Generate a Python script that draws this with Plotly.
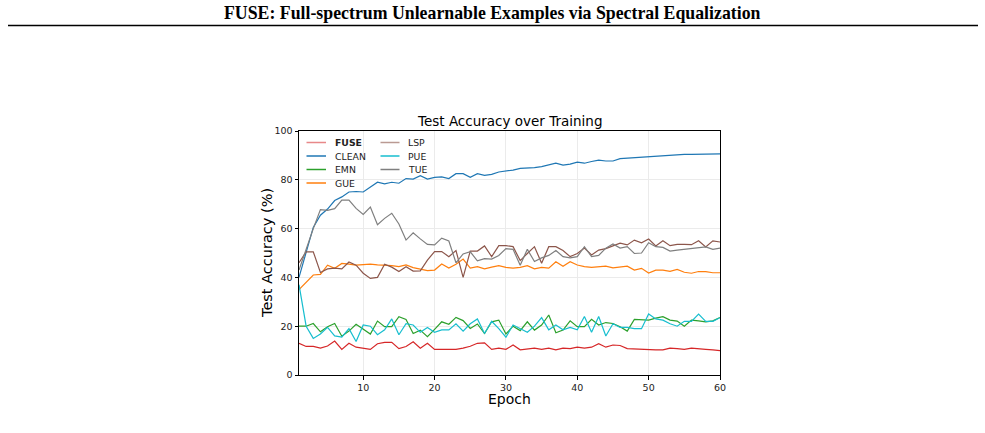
import plotly.graph_objects as go

epochs = list(range(1, 61))

fuse = [13, 11.7, 11.7, 11, 11.9, 13.9, 10.5, 13, 11.4, 11, 10.5, 12.8, 13.4, 13.4, 10.8, 11.7, 13.6, 11, 13, 10.5,
        10.5, 10.3, 10.5, 11, 11.8, 13, 13.2, 10.5, 11, 10.5, 12.3, 10.3, 10.5, 11, 10.5, 11, 10.3, 11, 10.8, 11.4,
        11, 11.4, 12.8, 11.4, 12.3, 12.1, 10.8, 10.6, 10.5, 10.3, 10.3, 10.3, 11, 10.8, 10.5, 11, 10.6, 10.5, 10.3, 10]
clean = [40, 50, 60.5, 65.5, 68, 71.5, 73, 75, 75.2, 75, 77, 79, 78.3, 79, 78.6, 80.5, 80.3, 81.7, 80.3, 81,
         81.2, 80.5, 82.5, 82.5, 81, 82.5, 81.8, 82.2, 83.2, 83.5, 84, 84.7, 84.7, 85, 85.4, 86, 86.8, 86, 86.4, 87.2,
         86.8, 87.5, 88.1, 87.7, 87.7, 88.7, 88.9, 89, 89.2, 89.4, 89.8, 89.7, 90, 90.4, 90.4, 90.4, 90.5, 90.6, 90.5, 90.6]
emn = [20, 20, 21.1, 17.7, 19.8, 21.1, 15.9, 18, 20.8, 18.9, 16.8, 22.1, 19.8, 19.8, 23.9, 22.8, 17, 18.4, 15.7, 18.7,
       21.8, 20.8, 23.6, 22.3, 19.1, 20.9, 17, 21.8, 22.5, 16.8, 20, 18.2, 21.8, 18.4, 20.5, 24.6, 17.3, 18.4, 22.2, 19.8,
       19.8, 22.8, 20.5, 21.5, 21.1, 19.8, 18, 22.8, 22.5, 22.5, 23.3, 23.9, 22.5, 22.1, 20, 22.5, 22.2, 21.8, 22.2, 23.6]
gue = [35, 38, 41, 41.2, 45, 43.7, 45.7, 45.4, 45, 45.2, 45.4, 45.1, 45, 44.8, 44.4, 45.1, 44, 43.4, 42.8, 43,
       45.5, 43.8, 45.4, 47.5, 43.8, 44.4, 43.5, 44.2, 44.8, 44.1, 43.8, 44.1, 44.8, 43.5, 44.1, 43.8, 46.4, 44.6, 46.4, 45.1,
       44.4, 44.1, 44.4, 44.6, 43.9, 44.1, 44.6, 43, 43.7, 41.8, 43, 43, 42.5, 43.3, 42.1, 41.7, 42.4, 42.4, 41.9, 41.9]
lsp = [46, 50.5, 50.5, 42, 43.5, 43.8, 43.5, 46.3, 45, 41.7, 39.6, 40, 45.4, 44.2, 42.4, 44.4, 42.6, 42.7, 47.1, 50.6,
       50.6, 48.5, 51, 40, 50.8, 50.8, 52.9, 48.5, 53, 53, 52.6, 46.9, 49.8, 52.6, 45.8, 52.6, 52.6, 51, 48.5, 49.8,
       52, 49.2, 51.2, 51.8, 52.9, 54, 53.3, 55.3, 54.2, 55.7, 52.9, 55, 53, 53.5, 53.5, 53.4, 55, 52.5, 55, 54.5]
pue = [37, 20, 15, 16.8, 19.5, 16, 15.5, 19, 13.7, 20.5, 20, 16.5, 18.5, 23, 16.5, 21, 20.5, 17.5, 19.5, 17.5,
       18.5, 18.5, 21, 18, 21, 23, 17, 22, 19, 15.5, 20.5, 19, 17.5, 20, 23.5, 18.5, 20.5, 18.5, 19.5, 18.5,
       24, 17.5, 24, 16, 21, 19.5, 19.5, 19, 19, 25, 23, 22.5, 21, 20, 22, 22, 25, 22, 22, 23.5]
tue = [43, 52, 60, 67.8, 67.5, 68.2, 71.7, 71.7, 68.3, 65.8, 68.8, 61.6, 64.2, 66.3, 61.9, 55.3, 58.3, 55.8, 53.5, 53.3,
       56.1, 54.9, 46, 49.6, 50.5, 46.8, 47.7, 47.5, 49, 51.8, 51.5, 45, 51.5, 46.5, 48, 49, 51, 48.5, 48, 48.5,
       52.6, 48.5, 49, 52, 53.7, 52, 52.6, 49.8, 50, 54.2, 52.6, 52.3, 50.8, 51.2, 51.5, 52, 52.2, 52.5, 51.5, 52]

names = ["FUSE", "CLEAN", "EMN", "GUE", "LSP", "PUE", "TUE"]
series = [fuse, clean, emn, gue, lsp, pue, tue]
colors = ["#d62728", "#1f77b4", "#2ca02c", "#ff7f0e", "#8c564b", "#17becf", "#7f7f7f"]
legend_colors = ["rgba(214,39,40,0.55)", "#1f77b4", "#2ca02c", "#ff7f0e", "rgba(140,86,75,0.6)", "#17becf", "#7f7f7f"]
x_ticks = [10, 20, 30, 40, 50, 60]
y_ticks = [0, 20, 40, 60, 80, 100]

W, H = 985, 433
L, R, T, B = 299, 720, 131, 375
pw, ph = R - L, B - T

def px(x):
    return (x - L) / pw

def py(y):
    return (B - y) / ph

fig = go.Figure()
for n, s, c in zip(names, series, colors):
    fig.add_trace(go.Scatter(x=epochs, y=s, mode="lines", name=n,
                             line=dict(color=c, width=1.2), showlegend=False))

shapes = []
annotations = []
# manual legend (two columns)
row_y = [142.5, 156, 169.5, 183]
cols = [(306.5, 326, 332.5), (380.5, 399.5, 406)]
for i, n in enumerate(names):
    col = 0 if i < 4 else 1
    row = i if i < 4 else i - 4
    x0, x1, xt = cols[col]
    yy = row_y[row]
    shapes.append(dict(type="line", xref="paper", yref="paper", x0=px(x0), x1=px(x1),
                       y0=py(yy), y1=py(yy), line=dict(color=legend_colors[i], width=1.5)))
    annotations.append(dict(xref="paper", yref="paper", x=px(xt), y=py(yy), xanchor="left",
                            yanchor="middle", showarrow=False,
                            text=("<b>%s</b>" % n) if n == "FUSE" else n,
                            font=dict(family="DejaVu Sans", size=9.3, color="#222")))

# page header
annotations.append(dict(xref="paper", yref="paper", x=px(492.5), y=py(13), xanchor="center",
                        yanchor="middle", showarrow=False,
                        text="<b>FUSE: Full-spectrum Unlearnable Examples via Spectral Equalization</b>",
                        font=dict(family="Liberation Serif", size=17.8, color="black")))
shapes.append(dict(type="line", xref="paper", yref="paper", x0=px(8), x1=px(978),
                   y0=py(25.5), y1=py(25.5), line=dict(color="black", width=1.6)))

# chart title
annotations.append(dict(xref="paper", yref="paper", x=0.5, y=py(121), xanchor="center",
                        yanchor="middle", showarrow=False, text="Test Accuracy over Training",
                        font=dict(family="DejaVu Sans", size=13.5, color="black")))

# axis titles
annotations.append(dict(xref="paper", yref="paper", x=0.5, y=py(399), xanchor="center",
                        yanchor="middle", showarrow=False, text="Epoch",
                        font=dict(family="DejaVu Sans", size=14, color="black")))
annotations.append(dict(xref="paper", yref="paper", x=px(267), y=0.5, xanchor="center",
                        yanchor="middle", showarrow=False, text="Test Accuracy (%)", textangle=-90,
                        font=dict(family="DejaVu Sans", size=14.5, color="black")))

fig.update_layout(
    width=W, height=H,
    margin=dict(l=L, r=W - R, t=T, b=H - B),
    paper_bgcolor="white", plot_bgcolor="white",
    shapes=shapes, annotations=annotations,
    showlegend=False,
    font=dict(family="DejaVu Sans", color="#222"),
)
fig.update_xaxes(range=[1, 60], tickvals=x_ticks, ticks="outside", ticklen=3.5, tickwidth=1,
                 tickcolor="black", showline=True, linecolor="black", linewidth=1, mirror=True,
                 showgrid=True, gridcolor="#ebebeb", gridwidth=1, zeroline=False,
                 tickfont=dict(family="DejaVu Sans", size=9.5, color="#222"))
fig.update_yaxes(range=[0, 100], tickvals=y_ticks, ticks="outside", ticklen=3.5, tickwidth=1,
                 tickcolor="black", showline=True, linecolor="black", linewidth=1, mirror=True,
                 showgrid=True, gridcolor="#ebebeb", gridwidth=1, zeroline=False,
                 tickfont=dict(family="DejaVu Sans", size=9.5, color="#222"))

fig.write_html("out.html")
